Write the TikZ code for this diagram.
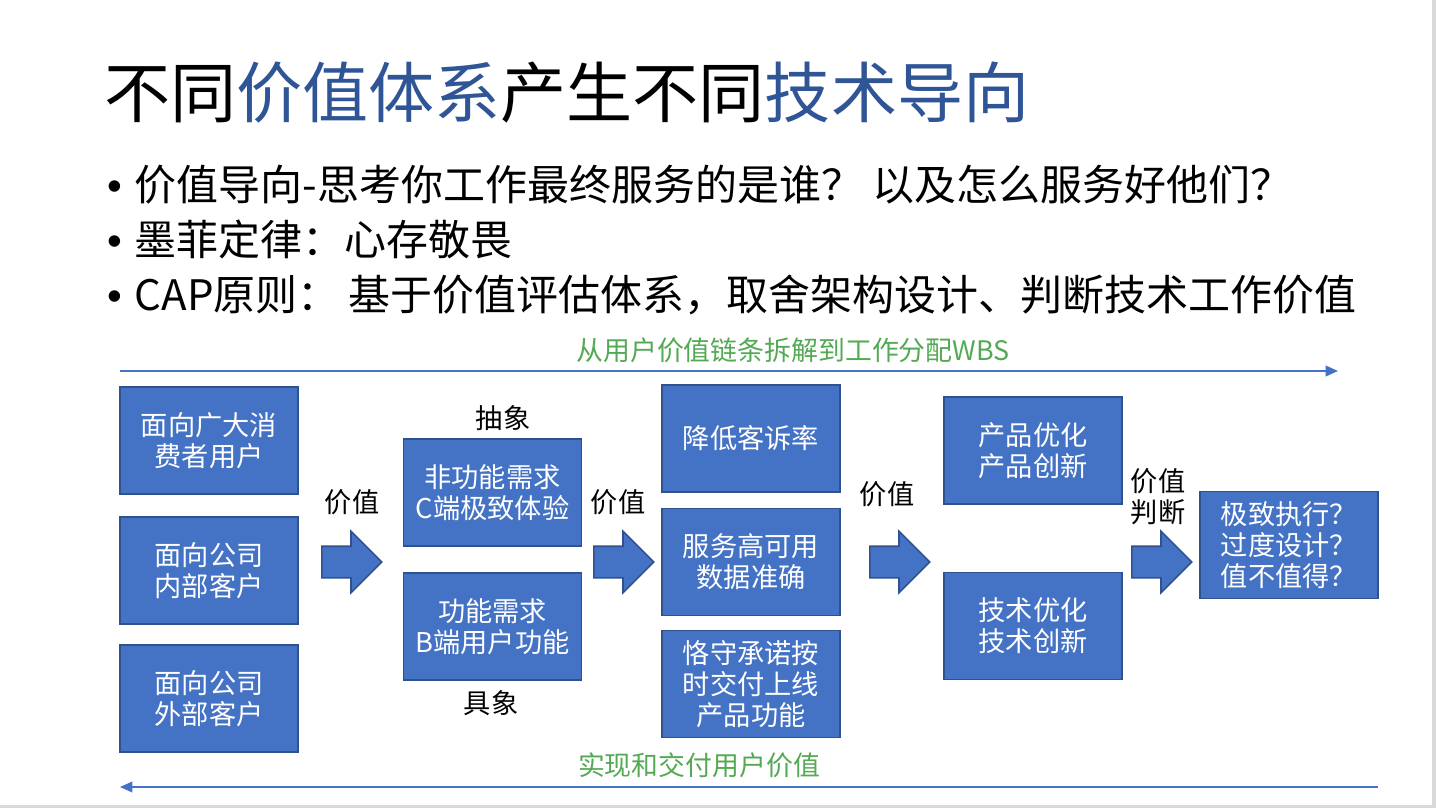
\documentclass[tikz,border=0pt]{standalone}
\usepackage{fontspec}
\setmainfont{Noto Sans CJK SC}
\newfontfamily\bulletfont{Liberation Sans}
\usetikzlibrary{
  shapes.arrows,
  arrows.meta,
  positioning
}
\definecolor{boxblue}{RGB}{68,114,196}
\definecolor{boxborder}{RGB}{47,82,143}
\definecolor{titleblue}{RGB}{47,85,151}
\definecolor{flowgreen}{RGB}{84,170,84}
\definecolor{edgegray}{RGB}{217,217,217}
\newcommand{\bulletmark}{{\bulletfont\fontsize{24}{26}\selectfont •}\hspace{0.3em}}
\tikzset{
  valuebox/.style={
    draw=boxborder, fill=boxblue, line width=1.1pt,
    minimum width=3.56cm, minimum height=2.14cm,
    align=center, inner sep=0pt,
    font=\fontsize{15.5}{17.6}\selectfont\color{white}
  },
  blockarrow/.style={
    single arrow, draw=boxborder, fill=boxblue, line width=0.9pt,
    minimum height=1.2cm, inner xsep=0pt, inner ysep=0.3cm,
    single arrow head extend=0.3cm, single arrow head indent=0pt,
    anchor=tail
  },
  steplabel/.style={
    font=\fontsize{15.5}{17.6}\selectfont, align=center, inner sep=0pt
  },
  flowarrow/.style={
    -{Triangle[length=7pt,width=6pt]},
    draw=boxblue, line width=1.1pt
  },
  flowlabel/.style={
    font=\fontsize{15.3}{17.6}\selectfont\color{flowgreen}, inner sep=0pt
  },
  slidetitle/.style={
    font=\fontsize{37.6}{44}\selectfont, anchor=base west, inner sep=0pt
  },
  bulletline/.style={
    font=\fontsize{23.9}{28}\selectfont, anchor=base west, inner sep=0pt
  },
}

\begin{document}
\begin{tikzpicture}[x=0.02cm, y=-0.02cm]

  \fill[edgegray] (0,0) rectangle (1436,808);
  \fill[white] (0,0) rectangle (1432,805);
  \useasboundingbox (0,0) rectangle (1436,808);

  %% Title and bullets
  \node[slidetitle] (T) at (104,117)
    {不同\textcolor{titleblue}{价值体系}产生不同\textcolor{titleblue}{技术导向}};
  \node[bulletline] (L1) at (107,200)
    {\bulletmark 价值导向-思考你工作最终服务的是谁？~以及怎么服务好他们？};
  \node[bulletline] (L2) at (107,255)
    {\bulletmark 墨菲定律：心存敬畏};
  \node[bulletline] (L3) at (107,310)
    {\bulletmark CAP原则：~基于价值评估体系，取舍架构设计、判断技术工作价值};

  %% Top and bottom flows
  \coordinate (topS) at (120,371);
  \coordinate (topE) at (1338,371);
  \draw[flowarrow] (topS) -- (topE);
  \node[flowlabel] (topL) at (793,350) {从用户价值链条拆解到工作分配WBS};

  \coordinate (botS) at (1378,787);
  \coordinate (botE) at (120,787);
  \draw[flowarrow] (botS) -- (botE);
  \node[flowlabel] (botL) at (699,765) {实现和交付用户价值};

  %% Users
  \node[valuebox] (u1) at (209,440.5) {面向广大消\\费者用户};
  \node[valuebox] (u2) at (209,570.5) {面向公司\\内部客户};
  \node[valuebox] (u3) at (209,698.5) {面向公司\\外部客户};

  \node[blockarrow] (a1) at (321,562) {};
  \node[steplabel] (v1) at (352,502) {价值};

  %% Requirements
  \node[valuebox] (r1) at (492.5,492.5) {非功能需求\\C端极致体验};
  \node[valuebox] (r2) at (492.5,626.5) {功能需求\\B端用户功能};
  \node[steplabel] (abs) at (503,418) {抽象};
  \node[steplabel] (con) at (491,703) {具象};

  \node[blockarrow] (a2) at (593,562) {};
  \node[steplabel] (v2) at (618,502) {价值};

  %% Goals
  \node[valuebox] (g1) at (751,438.5) {降低客诉率};
  \node[valuebox] (g2) at (751,562) {服务高可用\\数据准确};
  \node[valuebox] (g3) at (751,684) {恪守承诺按\\时交付上线\\产品功能};

  \node[blockarrow] (a3) at (869,562) {};
  \node[steplabel] (v3) at (887,494) {价值};

  %% Optimisation
  \node[valuebox] (p1) at (1033,450.5) {产品优化\\产品创新};
  \node[valuebox] (p2) at (1033,626) {技术优化\\技术创新};

  \node[blockarrow] (a4) at (1131,562) {};
  \node[steplabel] (v4) at (1158,497) {价值\\判断};

  %% Judgement
  \node[valuebox] (q) at (1289,545) {极致执行？\\过度设计？\\值不值得？};

\end{tikzpicture}
\end{document}
